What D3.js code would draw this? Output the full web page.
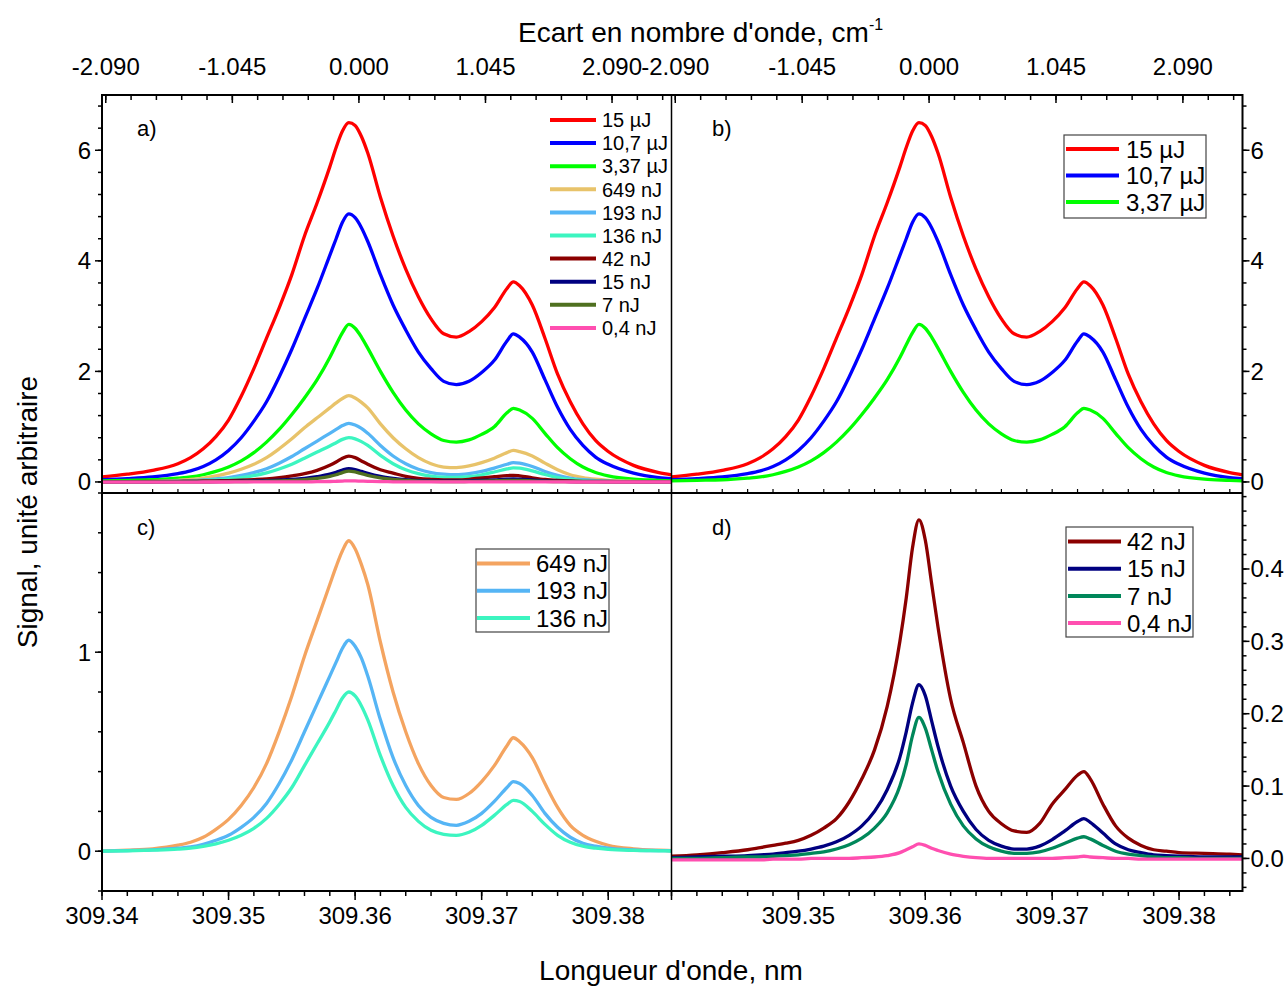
<!DOCTYPE html>
<html><head><meta charset="utf-8">
<script src="https://cdn.jsdelivr.net/npm/d3@7"></script>
<style>
body{margin:0;background:#fff;}
text{font-family:Arial,"Liberation Sans",sans-serif;fill:#000;}
</style>
</head><body>
<svg id="chart" width="1287" height="987"></svg>
<script>
// ---- DATA ----
const wavelength = [309.340,309.342,309.344,309.346,309.347,309.348,309.349,309.350,309.351,309.352,309.353,309.354,309.355,309.356,309.357,309.358,309.3585,309.359,309.3595,309.360,309.3605,309.361,309.362,309.363,309.364,309.365,309.366,309.367,309.368,309.369,309.370,309.371,309.372,309.3725,309.373,309.374,309.375,309.376,309.377,309.378,309.379,309.380,309.382,309.384,309.385];
const s15uJ  = [0.09,0.14,0.21,0.33,0.44,0.60,0.82,1.12,1.55,2.05,2.60,3.15,3.75,4.45,5.05,5.70,6.05,6.35,6.50,6.45,6.25,5.95,5.15,4.45,3.85,3.35,2.95,2.68,2.62,2.72,2.90,3.15,3.50,3.62,3.55,3.20,2.60,1.95,1.45,1.05,0.75,0.55,0.30,0.17,0.13];
const s107uJ = [0.04,0.06,0.09,0.15,0.20,0.28,0.40,0.57,0.80,1.10,1.45,1.90,2.40,2.95,3.50,4.10,4.40,4.70,4.85,4.78,4.60,4.35,3.75,3.20,2.75,2.35,2.05,1.82,1.76,1.82,1.98,2.20,2.55,2.68,2.62,2.35,1.85,1.35,0.95,0.66,0.45,0.32,0.16,0.08,0.06];
const s337uJ = [0.02,0.03,0.04,0.07,0.09,0.13,0.19,0.27,0.38,0.53,0.72,0.95,1.22,1.52,1.85,2.25,2.48,2.70,2.85,2.78,2.62,2.42,2.00,1.62,1.30,1.05,0.87,0.75,0.72,0.76,0.86,1.00,1.25,1.33,1.30,1.15,0.88,0.62,0.42,0.27,0.17,0.11,0.05,0.03,0.02];
const s649nJ = [0.0,0.005,0.012,0.03,0.045,0.07,0.11,0.16,0.23,0.32,0.44,0.60,0.78,0.98,1.16,1.34,1.43,1.51,1.56,1.52,1.44,1.34,1.05,0.80,0.60,0.44,0.33,0.27,0.26,0.29,0.35,0.43,0.53,0.57,0.55,0.47,0.34,0.22,0.13,0.08,0.05,0.03,0.012,0.005,0.003];
const s193nJ = [0.0,0.003,0.007,0.015,0.022,0.035,0.055,0.08,0.12,0.17,0.24,0.34,0.46,0.60,0.74,0.88,0.95,1.02,1.06,1.03,0.97,0.88,0.66,0.47,0.33,0.23,0.17,0.14,0.13,0.15,0.19,0.25,0.32,0.35,0.34,0.28,0.19,0.12,0.07,0.04,0.025,0.015,0.006,0.003,0.002];
const s136nJ = [0.0,0.002,0.005,0.01,0.015,0.024,0.037,0.055,0.08,0.115,0.165,0.235,0.32,0.43,0.54,0.65,0.71,0.77,0.80,0.78,0.73,0.66,0.48,0.33,0.22,0.15,0.105,0.085,0.08,0.095,0.13,0.18,0.235,0.255,0.25,0.20,0.135,0.08,0.045,0.025,0.015,0.009,0.004,0.002,0.001];
const s42nJ  = [0.003,0.005,0.008,0.012,0.015,0.018,0.021,0.025,0.032,0.042,0.055,0.078,0.11,0.15,0.21,0.30,0.36,0.43,0.468,0.44,0.38,0.32,0.22,0.16,0.10,0.065,0.048,0.038,0.036,0.048,0.075,0.095,0.115,0.12,0.11,0.075,0.045,0.028,0.018,0.012,0.010,0.008,0.007,0.006,0.005];
const s15nJ  = [0.001,0.002,0.003,0.004,0.005,0.006,0.008,0.010,0.013,0.017,0.023,0.032,0.045,0.065,0.095,0.14,0.175,0.215,0.24,0.225,0.19,0.155,0.10,0.065,0.04,0.025,0.017,0.013,0.013,0.017,0.026,0.038,0.051,0.055,0.05,0.035,0.02,0.012,0.008,0.005,0.004,0.003,0.002,0.002,0.002];
const s7nJ   = [0.0,0.0,0.001,0.002,0.002,0.003,0.004,0.005,0.007,0.009,0.013,0.019,0.028,0.042,0.063,0.10,0.13,0.17,0.195,0.18,0.15,0.12,0.075,0.045,0.027,0.016,0.010,0.007,0.007,0.009,0.014,0.021,0.028,0.030,0.027,0.018,0.010,0.006,0.004,0.002,0.001,0.001,0.0,0.0,0.0];
const s04nJ  = [-0.002,-0.002,-0.002,-0.002,-0.002,-0.001,-0.001,-0.001,0.0,0.0,0.0,0.0,0.001,0.002,0.004,0.008,0.012,0.016,0.020,0.018,0.014,0.011,0.006,0.003,0.001,0.0,0.0,0.0,0.0,0.0,0.0,0.001,0.002,0.003,0.002,0.001,0.0,0.0,-0.001,-0.001,-0.001,-0.001,-0.001,-0.001,-0.001];

const seriesLabels = ["15 µJ","10,7 µJ","3,37 µJ","649 nJ","193 nJ","136 nJ","42 nJ","15 nJ","7 nJ","0,4 nJ"];
const seriesValues = [s15uJ,s107uJ,s337uJ,s649nJ,s193nJ,s136nJ,s42nJ,s15nJ,s7nJ,s04nJ];

const xTicksNm = [309.34,309.35,309.36,309.37,309.38];
const topTicks = [-2.090,-1.045,0.000,1.045,2.090];
const yTicksAB = [0,2,4,6];
const yTicksC = [0,1];
const yTicksD = [0.0,0.1,0.2,0.3,0.4];

// ---- LAYOUT ----
const L=102, M=671.5, R=1242.5, T=95, MID=493, B=891;
const svg = d3.select("#chart");
const lam0 = 309.3603;
const toWn = l => (l - lam0) * 1e7 / (lam0*lam0);
const nmDomain = [309.34, 309.385];

const xL = d3.scaleLinear().domain(nmDomain).range([L, M]);
const xR = d3.scaleLinear().domain(nmDomain).range([M, R]);
const tL = d3.scaleLinear().domain(nmDomain.map(toWn)).range([L, M]);
const tR = d3.scaleLinear().domain(nmDomain.map(toWn)).range([M, R]);
const yA = d3.scaleLinear().domain([-0.2, 7.0]).range([MID, T]);
const yC = d3.scaleLinear().domain([-0.2, 1.8]).range([B, MID]);
const yD = d3.scaleLinear().domain([-0.045, 0.505]).range([B, MID]);

const panels = [
  {id:"a", x:xL, y:yA, top:T, bot:MID, idx:[0,1,2,3,4,5,6,7,8,9],
   colors:["#ff0000","#0000ff","#00ff00","#e8c36a","#55b5f5","#3cf5c0","#8b0000","#000080","#4f7020","#ff4fb0"]},
  {id:"b", x:xR, y:yA, top:T, bot:MID, idx:[0,1,2], colors:["#ff0000","#0000ff","#00ff00"]},
  {id:"c", x:xL, y:yC, top:MID, bot:B, idx:[3,4,5], colors:["#f4a460","#55b5f5","#3cf5c0"]},
  {id:"d", x:xR, y:yD, top:MID, bot:B, idx:[6,7,8,9], colors:["#8b0000","#000080","#00875a","#ff4fb0"]}
];

const defs = svg.append("defs");
panels.forEach(p => {
  const r = p.x.range();
  defs.append("clipPath").attr("id","clip-"+p.id).append("rect")
    .attr("x", r[0]).attr("y", p.top).attr("width", r[1]-r[0]).attr("height", p.bot-p.top);
});

// curves
panels.forEach(p => {
  const g = svg.append("g").attr("clip-path","url(#clip-"+p.id+")");
  const line = d3.line().x((d,i)=>p.x(wavelength[i])).y(d=>p.y(d)).curve(d3.curveMonotoneX);
  p.idx.forEach((si,k) => {
    g.append("path").attr("d", line(seriesValues[si]))
      .attr("fill","none").attr("stroke", p.colors[k]).attr("stroke-width",3.3)
      .attr("stroke-linejoin","round");
  });
});

// frame
const frame = svg.append("g").attr("stroke","#000").attr("fill","none");
frame.append("rect").attr("x",L).attr("y",T).attr("width",R-L).attr("height",B-T).attr("stroke-width",2);
frame.append("line").attr("x1",L).attr("x2",R).attr("y1",MID).attr("y2",MID).attr("stroke-width",2);
frame.append("line").attr("x1",M).attr("x2",M).attr("y1",T).attr("y2",B).attr("stroke-width",1.5);

// tick helper
function ticksLine(g, vals, pos, len, orient){
  vals.forEach(v=>{
    const p = pos(v);
    if(orient==="down") g.append("line").attr("x1",p).attr("x2",p).attr("y1",0).attr("y2",len);
    if(orient==="up") g.append("line").attr("x1",p).attr("x2",p).attr("y1",0).attr("y2",-len);
    if(orient==="left") g.append("line").attr("y1",p).attr("y2",p).attr("x1",0).attr("x2",-len);
    if(orient==="right") g.append("line").attr("y1",p).attr("y2",p).attr("x1",0).attr("x2",len);
  });
}
const range = (a,b,s) => d3.range(Math.round((b-a)/s)+1).map(i=>+(a+i*s).toFixed(6));
const minorNm = range(309.34, 309.384, 0.002);

// bottom axes
[xL, xR].forEach((x,j)=>{
  const g = svg.append("g").attr("transform",`translate(0,${B})`).attr("stroke","#000").attr("stroke-width",1.5);
  ticksLine(g, minorNm, x, 5, "down");
  ticksLine(g, xTicksNm, x, 9, "down");
  const lab = svg.append("g");
  xTicksNm.forEach(v=>{
    if(j===1 && v===309.34) return;
    lab.append("text").attr("x",x(v)).attr("y",B+33).attr("text-anchor","middle")
      .attr("font-size",24).text(v.toFixed(2));
  });
  // small inward ticks on middle line
  const gm = svg.append("g").attr("transform",`translate(0,${MID})`).attr("stroke","#000").attr("stroke-width",1.2);
  ticksLine(gm, minorNm, x, 4, "up");
});

// top axes
const minorTop = range(-2.09, 2.508, 0.209);
[tL, tR].forEach(t=>{
  const g = svg.append("g").attr("transform",`translate(0,${T})`).attr("stroke","#000").attr("stroke-width",1.5);
  ticksLine(g, minorTop, t, 5, "down");
  ticksLine(g, topTicks, t, 8, "down");
  topTicks.forEach(v=>{
    svg.append("text").attr("x",t(v)).attr("y",T-20).attr("text-anchor","middle")
      .attr("font-size",24).text(v.toFixed(3));
  });
});

// left axes
function yAxis(y, vals, minors, xPos, side, fmt){
  const g = svg.append("g").attr("transform",`translate(${xPos},0)`).attr("stroke","#000").attr("stroke-width",1.5);
  ticksLine(g, minors, y, 4, side);
  ticksLine(g, vals, y, 7, side);
  vals.forEach(v=>{
    svg.append("text").attr("x", side==="left"? xPos-11 : xPos+8).attr("y", y(v)+8.5)
      .attr("text-anchor", side==="left"?"end":"start").attr("font-size",24).text(fmt(v));
  });
}
const minAB = range(0, 6.8, 0.4);
yAxis(yA, yTicksAB, minAB, L, "left", v=>String(v));
yAxis(yA, yTicksAB, minAB, R, "right", v=>String(v));
yAxis(yC, yTicksC, range(-0.2, 1.8, 0.2), L, "left", v=>String(v));
yAxis(yD, yTicksD, range(-0.04, 0.50, 0.02), R, "right", v=>v.toFixed(1));

// panel labels
[["a)",137,136],["b)",712,136],["c)",137,535],["d)",712,535]].forEach(d=>{
  svg.append("text").attr("x",d[1]).attr("y",d[2]).attr("font-size",22).text(d[0]);
});

// legends
function legend(p, x0, y0, dy, lineLen, gap, fs, box){
  if(box){
    svg.append("rect").attr("x",box[0]).attr("y",box[1]).attr("width",box[2]).attr("height",box[3])
      .attr("fill","#fff").attr("stroke","#444").attr("stroke-width",1.2);
  }
  p.idx.forEach((si,k)=>{
    const yy = y0 + k*dy;
    svg.append("line").attr("x1",x0).attr("x2",x0+lineLen).attr("y1",yy).attr("y2",yy)
      .attr("stroke",p.colors[k]).attr("stroke-width",4);
    svg.append("text").attr("x",x0+lineLen+gap).attr("y",yy+fs*0.36).attr("font-size",fs).text(seriesLabels[si]);
  });
}
legend(panels[0], 550, 120, 23.1, 46, 6, 20, null);
legend(panels[1], 1066, 149, 26.5, 53, 7, 24, [1064,135,142,83]);
legend(panels[2], 477, 563.5, 27.3, 53, 6, 24, [476,549,133,83]);
legend(panels[3], 1068, 541.5, 27.2, 53, 6, 24, [1066,527,127,110]);

// axis titles
const tt = svg.append("text").attr("x",518).attr("y",42).attr("font-size",28);
tt.append("tspan").text("Ecart en nombre d'onde, cm");
tt.append("tspan").attr("dy",-12).attr("font-size",16).text("-1");
svg.append("text").attr("x",671).attr("y",980).attr("text-anchor","middle").attr("font-size",28).text("Longueur d'onde, nm");
svg.append("text").attr("transform","translate(37,512) rotate(-90)").attr("text-anchor","middle").attr("font-size",28).text("Signal, unité arbitraire");
</script>
</body></html>
